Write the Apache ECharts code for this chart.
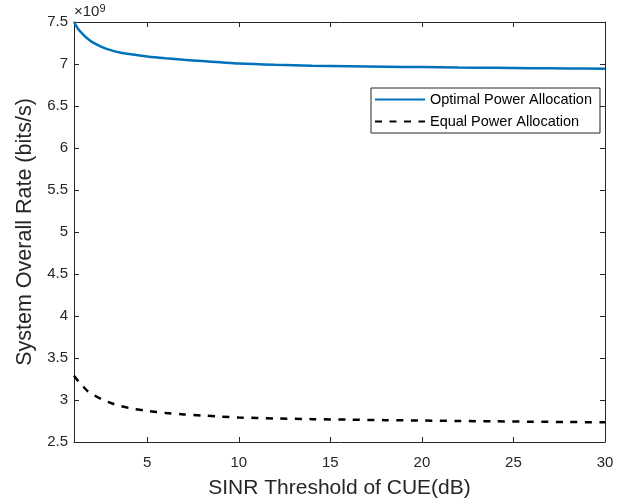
<!DOCTYPE html>
<html><head><meta charset="utf-8">
<script src="https://cdn.jsdelivr.net/npm/echarts@6/dist/echarts.min.js"></script>
<style>html,body{margin:0;padding:0;background:#fff}#c{width:626px;height:499px}</style>
</head><body><div id="c"></div>
<script>
const xValues = [1,1.25,1.5,1.75,2,2.5,3,3.5,4,5,6,7,8,9,10,12,14,16,18,20,22,24,26,28,30];
const optimal = [7.50,7.41,7.35,7.30,7.26,7.205,7.165,7.138,7.12,7.09,7.068,7.05,7.035,7.02,7.005,6.99,6.98,6.974,6.968,6.963,6.958,6.954,6.95,6.947,6.944];
const equal = [3.29,3.22,3.16,3.105,3.07,3.01,2.965,2.93,2.905,2.87,2.846,2.828,2.815,2.803,2.792,2.78,2.772,2.766,2.76,2.755,2.75,2.746,2.742,2.738,2.735];
const xTicks = [5,10,15,20,25,30];
const seriesNames = ['Optimal Power Allocation','Equal Power Allocation'];
const xTitle = 'SINR Threshold of CUE(dB)';
const yTitle = 'System Overall Rate (bits/s)';

const FONT = '"Liberation Sans", Arial, sans-serif';
const AX = '#262626';
const chart = echarts.init(document.getElementById('c'));
const pair = a => xValues.map((x,i)=>[x,a[i]]);
const axisLine = {show:true,onZero:false,lineStyle:{color:AX,width:1}};
const tick = {show:true,inside:true,length:5,lineStyle:{color:AX}};
chart.setOption({
  animation:false,
  grid:{left:74,right:21,top:22,bottom:57,containLabel:false,outerBoundsMode:'none'},
  legend:{
    orient:'vertical',left:371,top:88,
    data:seriesNames,
    itemWidth:50,itemHeight:12,itemGap:7,
    padding:[4,8,4,3],
    borderColor:'#262626',borderWidth:1,backgroundColor:'#fff',borderRadius:0,
    itemStyle:{opacity:0},
    textStyle:{fontFamily:FONT,fontSize:14.5,color:'#000'}
  },
  xAxis:[
    {type:'value',min:1,max:30,position:'bottom',
      name:xTitle,nameLocation:'middle',nameGap:36,
      nameTextStyle:{fontFamily:FONT,fontSize:21,color:AX},
      axisLine:axisLine,splitLine:{show:false},
      axisTick:Object.assign({customValues:xTicks},tick),
      axisLabel:{customValues:xTicks,margin:13,fontFamily:FONT,fontSize:15,color:AX}},
    {type:'value',min:1,max:30,position:'top',
      axisLine:axisLine,splitLine:{show:false},
      axisTick:Object.assign({customValues:xTicks},tick),
      axisLabel:{show:false}}
  ],
  yAxis:[
    {type:'value',min:2.5,max:7.5,interval:0.5,position:'left',
      name:yTitle,nameLocation:'middle',nameGap:38,
      nameTextStyle:{fontFamily:FONT,fontSize:21.5,color:AX},
      axisLine:axisLine,splitLine:{show:false},axisTick:tick,
      axisLabel:{margin:6,fontFamily:FONT,fontSize:15,color:AX,formatter:v=>String(v)}},
    {type:'value',min:2.5,max:7.5,interval:0.5,position:'right',
      axisLine:axisLine,splitLine:{show:false},axisTick:tick,
      axisLabel:{show:false}}
  ],
  graphic:[{
    type:'text',left:74,top:3,
    style:{
      text:'×10{s|9}',
      font:'15px '+FONT,fill:AX,
      rich:{s:{fontSize:11,fontFamily:FONT,fill:AX,verticalAlign:'top',padding:[0,0,7,0]}}
    }
  }],
  series:[
    {name:seriesNames[0],type:'line',data:pair(optimal),smooth:0.3,symbol:'none',
      lineStyle:{color:'#0072BD',width:2.5},itemStyle:{color:'#0072BD'}},
    {name:seriesNames[1],type:'line',data:pair(equal),smooth:0.3,symbol:'none',
      lineStyle:{color:'#000',width:2.5,type:[7,7.5]},itemStyle:{color:'#000'}}
  ]
});
</script></body></html>
